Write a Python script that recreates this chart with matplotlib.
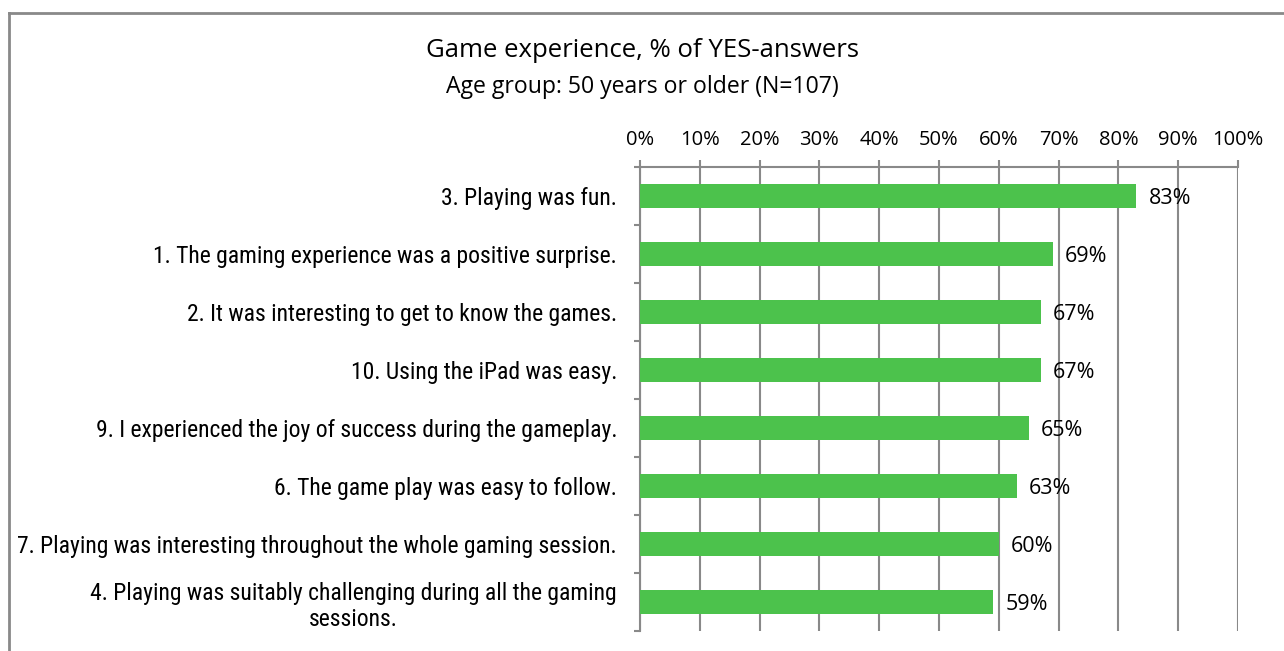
import matplotlib
matplotlib.use("Agg")
import matplotlib.pyplot as plt
from matplotlib import font_manager
from matplotlib.lines import Line2D

# question texts, top to bottom
questions = [
    "3. Playing was fun.",
    "1. The gaming experience was a positive surprise.",
    "2. It was interesting to get to know the games.",
    "10. Using the iPad was easy.",
    "9. I experienced the joy of success during the gameplay.",
    "6. The game play was easy to follow.",
    "7. Playing was interesting throughout the whole gaming session.",
    "4. Playing was suitably challenging during all the gaming\nsessions.",
]
yes_share = [83, 69, 67, 67, 65, 63, 60, 59]
x_ticks = [0, 10, 20, 30, 40, 50, 60, 70, 80, 90, 100]

# prefer a condensed face for the question labels if one is around
installed = {f.name for f in font_manager.fontManager.ttflist}
narrow, label_size = "Liberation Sans", 14.5
for cand in ["Liberation Sans Narrow", "Arial Narrow", "DejaVu Sans Condensed",
             "Roboto Condensed", "Open Sans Condensed"]:
    if cand in installed:
        narrow, label_size = cand, 17
        break
main_font = "Open Sans"

grey = "#898989"
green = "#4cc24c"

fig = plt.figure(figsize=(12.84, 6.51), dpi=100)
ax = fig.add_axes([0.4984, 0.0307, 0.4657, 0.7128])

ypos = list(range(len(questions)))
ax.barh(ypos, yes_share, height=0.4, color=green, zorder=3)
for y, v in zip(ypos, yes_share):
    ax.annotate(f"{v}%", (v, y), xytext=(9, 0), textcoords="offset points",
                ha="left", va="center_baseline", fontsize=15.5, family=main_font, zorder=4)

ax.set_xlim(0, 100)
ax.set_ylim(len(questions) - 0.5, -0.5)
ax.xaxis.tick_top()
ax.set_xticks(x_ticks)
ax.set_xticklabels([f"{t}%" for t in x_ticks], fontsize=14.5, family=main_font)
ax.tick_params(axis="x", length=5, width=1.5, color=grey, pad=7)
ax.grid(axis="x", color=grey, linewidth=1.5, zorder=1)

ax.set_yticks(ypos)
ax.set_yticklabels(questions, fontsize=label_size, family=narrow, multialignment="center")
ax.tick_params(axis="y", length=0, pad=16.5)
ax.set_yticks([i - 0.5 for i in range(len(questions) + 1)], minor=True)
ax.tick_params(axis="y", which="minor", length=4, width=1.5, color=grey)

for side in ["right", "bottom"]:
    ax.spines[side].set_visible(False)
for side in ["left", "top"]:
    ax.spines[side].set_color(grey)
    ax.spines[side].set_linewidth(1.5)

fig.text(0.5, 0.922, "Game experience, % of YES-answers", ha="center", va="center",
         fontsize=18.5, family=main_font)
fig.text(0.5, 0.867, "Age group: 50 years or older (N=107)", ha="center", va="center",
         fontsize=16.6, family=main_font)

# chart-area frame (left and top edges)
bx, by = 9 / 1284, 1 - 13 / 651
fig.add_artist(Line2D([bx, bx], [0, by], color=grey, linewidth=2, transform=fig.transFigure))
fig.add_artist(Line2D([bx, 1], [by, by], color=grey, linewidth=2, transform=fig.transFigure))

fig.savefig("out.png", dpi=100)
